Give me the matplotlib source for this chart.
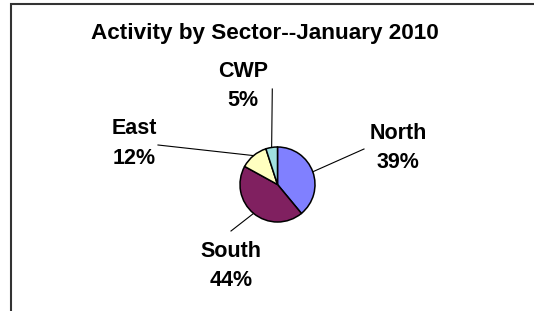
import numpy as np
import matplotlib.pyplot as plt

# data
sectors = ['North', 'South', 'East', 'CWP']
shares = [39, 44, 12, 5]
colors = ['#8080FF', '#802060', '#FFFFC0', '#A0E0E0']
title = 'Activity by Sector--January 2010'

# layout (pixel coords, y measured from top)
W, H = 534, 311
center_px = (277.5, 184.5)
radius = 37.5
label_pos = {'North': (398, 148), 'South': (231, 266), 'East': (134, 143.5), 'CWP': (243, 86)}
line_end = {'North': (364, 149), 'South': (231, 231), 'East': (158, 145), 'CWP': (272.3, 89)}

plt.rcParams['font.family'] = ['Liberation Sans', 'DejaVu Sans']

fig = plt.figure(figsize=(W / 100, H / 100), dpi=100)
ax = fig.add_axes([0, 0, 1, 1])

wedges, _ = ax.pie(shares, colors=colors, startangle=90, counterclock=False,
                   center=(center_px[0], H - center_px[1]), radius=radius,
                   wedgeprops=dict(edgecolor='black', linewidth=1.1))

ax.set_xlim(0, W)
ax.set_ylim(0, H)
ax.set_aspect('auto')
ax.axis('off')

for w, name, val in zip(wedges, sectors, shares):
    mid = np.deg2rad((w.theta1 + w.theta2) / 2)
    x0 = w.center[0] + w.r * np.cos(mid)
    y0 = w.center[1] + w.r * np.sin(mid)
    ex, ey = line_end[name]
    ax.plot([x0, ex], [y0, H - ey], color='black', lw=0.8)
    lx, ly = label_pos[name]
    ax.text(lx, H - ly, f'{name}\n{val}%', ha='center', va='center',
            fontsize=15.5, fontweight='bold', linespacing=1.5)

ax.text(265, H - 33, title, ha='center', va='center', fontsize=16.2, fontweight='bold')

# chart frame: only left and top edges fall inside the image
ax.plot([10.5, 10.5, W + 5], [-5, H - 3.5, H - 3.5], color='#333333', lw=1.5,
        solid_joinstyle='miter', clip_on=False)

fig.savefig('out.png', dpi=100)
